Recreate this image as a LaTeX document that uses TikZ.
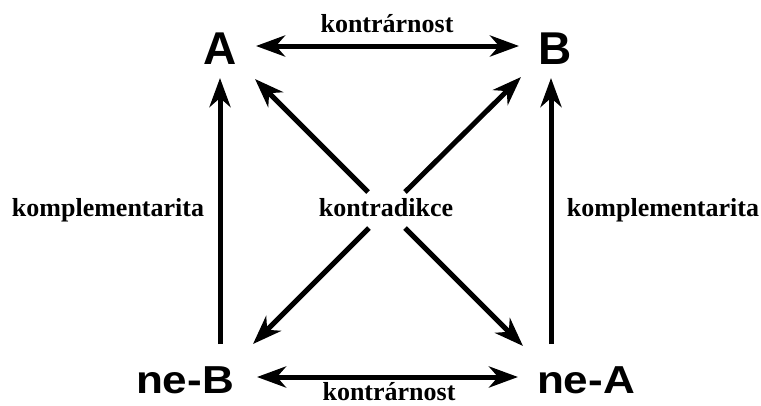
\documentclass[tikz,border=0pt]{standalone}
\usepackage{fontspec}
\setmainfont{Liberation Serif}
\newfontfamily\headfont{Liberation Sans}
\usetikzlibrary{arrows.meta}
\begin{document}
\begin{tikzpicture}[x=1pt,y=-1pt,
  big/.style={font=\headfont\bfseries\fontsize{46}{46}\selectfont, inner sep=0pt, anchor=base},
  bigw/.style={font=\headfont\bfseries\fontsize{39}{39}\selectfont, inner sep=0pt, anchor=base},
  lbl/.style={font=\bfseries\fontsize{26}{26}\selectfont, inner sep=0pt, anchor=base},
  con/.style={line width=5pt, -{Stealth[length=29pt,width=21pt,inset=9pt]}},
  dcon/.style={line width=5pt, {Stealth[length=29pt,width=21pt,inset=9pt]}-{Stealth[length=29pt,width=21pt,inset=9pt]}}]
\useasboundingbox (0,0) rectangle (761,405);
\fill[white] (0,0) rectangle (761,405);
% main nodes
\node[big] (A) at (220,64) {A};
\node[big] (B) at (555,64) {B};
\node[bigw] (neB) at (185,393) {\scalebox{1.13}[1]{ne-B}};
\node[bigw] (neA) at (586,393) {\scalebox{1.13}[1]{ne-A}};
% labels
\node[lbl] (ktop) at (387,32) {kontrárnost};
\node[lbl] (kbot) at (389,400) {kontrárnost};
\node[lbl] (kl) at (108,216) {komplementarita};
\node[lbl] (kr) at (663,216) {komplementarita};
\node[lbl] (kd) at (386,216) {kontradikce};
% connector end points
\coordinate (tA) at (256,46);
\coordinate (tB) at (519,46);
\coordinate (bB) at (257,377);
\coordinate (bA) at (518,377);
\coordinate (lbot) at (220,344);
\coordinate (ltop) at (220,78);
\coordinate (rbot) at (551,344);
\coordinate (rtop) at (551,78);
\coordinate (d1a) at (368,192);
\coordinate (d1tip) at (255,79);
\coordinate (d1b) at (405,228);
\coordinate (d1end) at (523,346);
\coordinate (d2a) at (405,192);
\coordinate (d2tip) at (521,77);
\coordinate (d2b) at (369,228);
\coordinate (d2end) at (253,344);
% connectors
\draw[dcon] (tA) -- (tB);
\draw[dcon] (bB) -- (bA);
\draw[con] (lbot) -- (ltop);
\draw[con] (rbot) -- (rtop);
\draw[con] (d1a) -- (d1tip);
\draw[con] (d1b) -- (d1end);
\draw[con] (d2a) -- (d2tip);
\draw[con] (d2b) -- (d2end);
\end{tikzpicture}
\end{document}
